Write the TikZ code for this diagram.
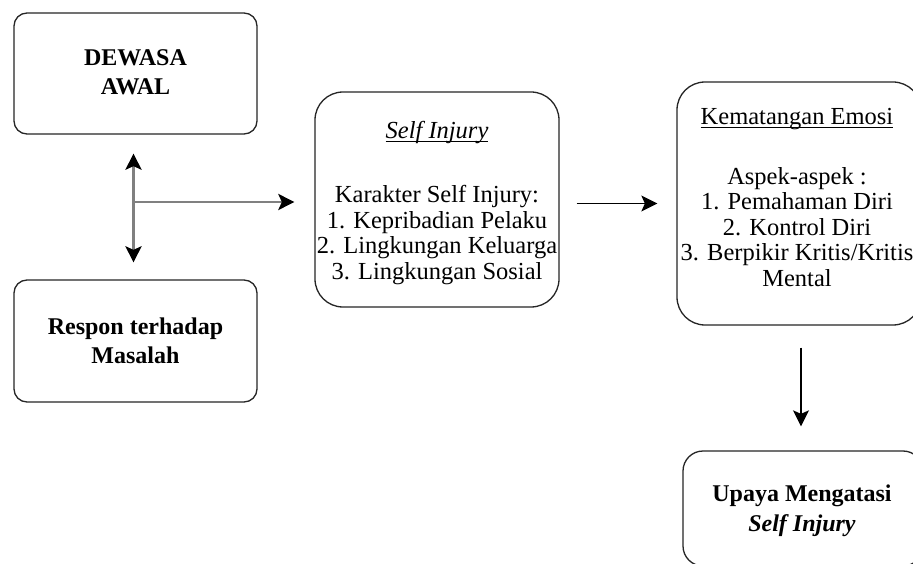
\documentclass[tikz,border=0pt]{standalone}
\usepackage{fontspec}
\setmainfont{Liberation Serif}
\usetikzlibrary{arrows.meta}
\newsavebox{\myulbox}
\newcommand{\myunderline}[1]{\sbox{\myulbox}{#1}\rlap{\rule[-3.5pt]{\wd\myulbox}{1.1pt}}\usebox{\myulbox}}
\begin{document}
\begin{tikzpicture}[x=1pt,y=-1pt,
  box/.style={draw=black!85, line width=1.3pt, inner sep=0pt},
  boldtxt/.style={align=center, inner sep=0pt, font=\fontsize{24}{29.5}\selectfont\bfseries},
  normtxt/.style={align=center, inner sep=0pt, font=\fontsize{24.5}{25.5}\selectfont},
  grayline/.style={draw=black!50},
  blackarrow/.style={draw=black, line width=1.4pt, -{Stealth[length=16pt,width=16pt,inset=3.5pt]}}]
\useasboundingbox (0,0) rectangle (913,564);
\fill[white] (0,0) rectangle (913,564);

% boxes
\node[box, rounded corners=13pt, minimum width=243pt, minimum height=121pt] (b1) at (135.5,73.5) {};
\node[box, rounded corners=13pt, minimum width=243pt, minimum height=122pt] (b2) at (135.5,341) {};
\node[box, rounded corners=28pt, minimum width=244pt, minimum height=215pt] (b3) at (437,199.5) {};
\node[box, rounded corners=28pt, minimum width=244pt, minimum height=243pt] (b4) at (799,203.5) {};
\node[box, rounded corners=20pt, minimum width=240pt, minimum height=115pt] (b5) at (803,508.5) {};

% texts
\node[boldtxt] (t1) at (135.5,72) {DEWASA\\AWAL};
\node[boldtxt] (t2) at (135.5,341) {Respon terhadap\\Masalah};
\node[normtxt] (t3) at (437,203)
  {\myunderline{\textit{Self Injury}}\\[39pt]Karakter Self Injury:\\1. Kepribadian Pelaku\\2. Lingkungan Keluarga\\3. Lingkungan Sosial};
\node[normtxt] (t4) at (797,197.5)
  {\myunderline{Kematangan Emosi}\\[34pt]Aspek-aspek :\\1. Pemahaman Diri\\2. Kontrol Diri\\3. Berpikir Kritis/Kritis\\Mental};
\node[boldtxt] (t5) at (802,511) {Upaya Mengatasi\\\textit{Self Injury}};

% connectors
\coordinate (j) at (133.5,202);
\draw[grayline, line width=3.5pt, {Stealth[length=16pt,width=16pt,inset=3.5pt,color=black]}-{Stealth[length=16pt,width=16pt,inset=3.5pt,color=black]}, shorten <=19pt, shorten >=17pt]
  ([xshift=-2pt]b1.south) -- ([xshift=-2pt]b2.north);
\draw[grayline, line width=2.8pt, -{Stealth[length=16pt,width=16pt,inset=3.5pt,color=black]}, shorten >=20pt] (j) -- (j -| b3.west);
\draw[blackarrow, shorten <=17pt, shorten >=19pt] ([yshift=-4pt]b3.east) -- ([yshift=-4pt]b3.east -| b4.west);
\draw[blackarrow, shorten <=22pt, shorten >=24pt] ([xshift=2pt]b4.south) -- ([xshift=2pt]b4.south |- b5.north);
\end{tikzpicture}
\end{document}
